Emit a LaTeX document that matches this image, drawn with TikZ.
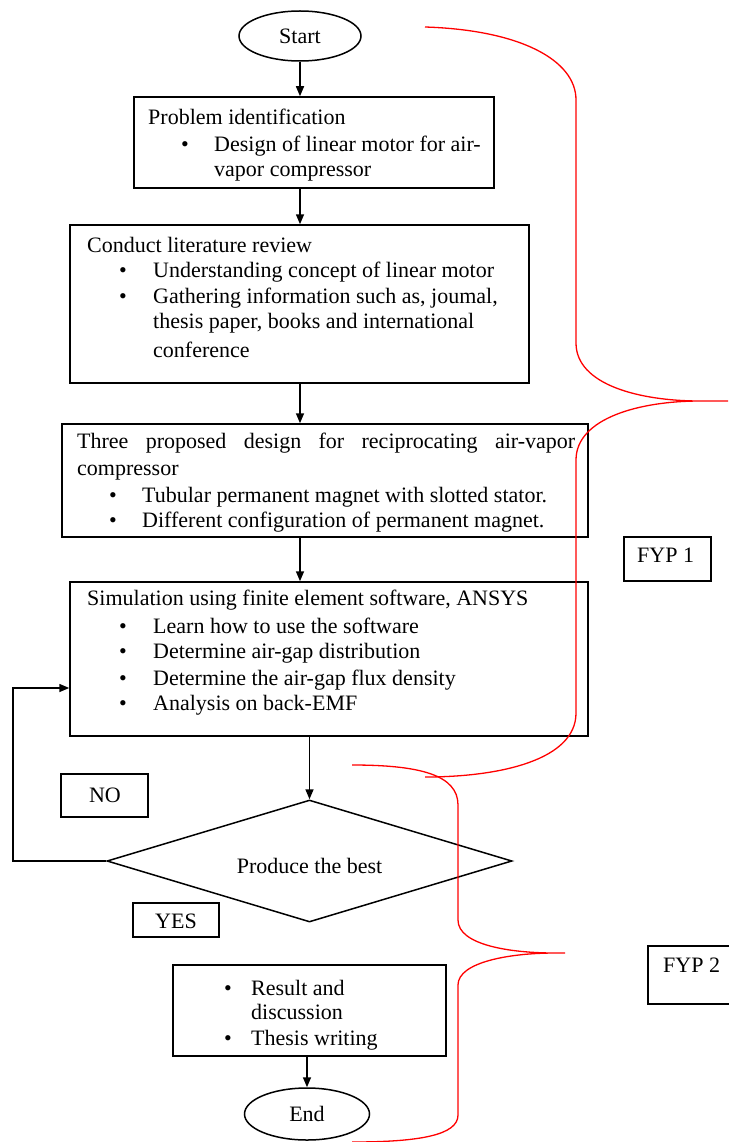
\documentclass[tikz,border=0pt]{standalone}
\usepackage{fontspec}
\setmainfont{Liberation Serif}
\usetikzlibrary{shapes.geometric,arrows.meta}
\begin{document}
\begin{tikzpicture}[x=1pt,y=-1pt,
  box/.style={draw, line width=1.5pt, inner sep=0pt},
  txt/.style={anchor=base west, inner sep=0pt, font=\fontsize{22}{26}\selectfont},
  lbl/.style={anchor=base, inner sep=0pt, font=\fontsize{22}{26}\selectfont},
  term/.style={ellipse, draw, line width=1.5pt, inner sep=0pt, font=\fontsize{22}{26}\selectfont},
  arr/.style={line width=1.5pt, -{Triangle[length=10pt,width=8pt]}},
  brace/.style={draw=red, line width=1.3pt}]
\useasboundingbox (0,0) rectangle (728,1142);

% terminals
\node[term, minimum width=122pt, minimum height=50pt] (start) at (300,36) {Start};
\node[term, minimum width=125pt, minimum height=52pt] (end) at (307,1114) {End};

% boxes
\node[box, minimum width=360pt, minimum height=91pt] (b1) at (314,142.5) {};
\node[box, minimum width=459pt, minimum height=158pt] (b2) at (299.5,304) {};
\node[box, minimum width=526pt, minimum height=113pt] (b3) at (325,480.5) {};
\node[box, minimum width=518pt, minimum height=154pt] (b4) at (329,659) {};
\node[box, minimum width=273pt, minimum height=91pt] (b5) at (309.5,1010.5) {};
\node[diamond, draw, line width=1.5pt, minimum width=405pt, minimum height=122pt, inner sep=0pt, aspect=3.3] (dia) at (309.5,861) {};
\node[lbl] (tdia) at (309.5,873) {Produce the best};

% small label boxes
\node[box, minimum width=87pt, minimum height=43pt] (no) at (104.5,795.5) {};
\node[box, minimum width=86pt, minimum height=34pt] (yes) at (176,920) {};
\node[box, minimum width=87pt, minimum height=44pt] (fyp1) at (667.5,559) {};
\node[box, minimum width=92pt, minimum height=58pt] (fyp2) at (694,975) {};
\node[lbl] (tno) at (105,802) {NO};
\node[lbl] (tyes) at (176,928) {YES};
\node[txt] (tfyp1) at (637,562) {FYP 1};
\node[txt] (tfyp2) at (663,972) {FYP 2};

% box 1 text
\node[txt] (t11) at (148,125) {Problem identification};
\node[txt] (u11) at (181,152) {•};
\node[txt] (t12) at (214,152) {Design of linear motor for air-};
\node[txt] (t13) at (214,176) {vapor compressor};

% box 2 text
\node[txt] (t21) at (87,252) {Conduct literature review};
\node[txt] (u21) at (119,277) {•};
\node[txt] (t22) at (153,277) {Understanding concept of linear motor};
\node[txt] (u22) at (119,303) {•};
\node[txt] (t23) at (153,303) {Gathering information such as, joumal,};
\node[txt] (t24) at (153,328) {thesis paper, books and international};
\node[txt] (t25) at (153,357) {conference};

% box 3 text
\node[txt] (t31) at (77,448) {\makebox[498pt][s]{Three proposed design for reciprocating air-vapor}};
\node[txt] (t32) at (77,475) {compressor};
\node[txt] (u31) at (109,502) {•};
\node[txt] (t33) at (142,502) {Tubular permanent magnet with slotted stator.};
\node[txt] (u32) at (109,527) {•};
\node[txt] (t34) at (142,527) {Different configuration of permanent magnet.};

% box 4 text
\node[txt] (t41) at (87,605) {Simulation using finite element software, ANSYS};
\node[txt] (u41) at (119,633) {•};
\node[txt] (t42) at (153,633) {Learn how to use the software};
\node[txt] (u42) at (119,658) {•};
\node[txt] (t43) at (153,658) {Determine air-gap distribution};
\node[txt] (u43) at (119,685) {•};
\node[txt] (t44) at (153,685) {Determine the air-gap flux density};
\node[txt] (u44) at (119,710) {•};
\node[txt] (t45) at (153,710) {Analysis on back-EMF};

% box 5 text
\node[txt] (u51) at (224,995) {•};
\node[txt] (t51) at (251,995) {Result and};
\node[txt] (t52) at (251,1019) {discussion};
\node[txt] (u52) at (224,1045) {•};
\node[txt] (t53) at (251,1045) {Thesis writing};

% connectors
\draw[arr] (start.south) -- (start.south |- b1.north);
\draw[arr] (b1.south -| start.south) -- (b2.north -| start.south);
\draw[arr] (b2.south -| start.south) -- (b3.north -| start.south);
\draw[arr] (b3.south -| start.south) -- (b4.north -| start.south);
\draw[arr] (b4.south -| dia.north) -- (dia.north);
\draw[arr] (b5.south -| end.north) -- (end.north);
\coordinate (lp) at (13,688);
\draw[arr] (dia.west) -| (lp) -- (lp -| b4.west);

% red braces
\draw[brace] (425,27) .. controls (520,30) and (576,60) .. (576,100) -- (576,343)
  .. controls (576,385) and (640,401) .. (700,401) -- (728,401) -- (700,401)
  .. controls (640,401) and (576,418) .. (576,460) -- (576,713)
  .. controls (576,760) and (500,777) .. (425,777);
\draw[brace] (352,765) .. controls (420,765) and (458,775) .. (458,805) -- (458,920)
  .. controls (458,945) and (510,953) .. (555,953) -- (565,953) -- (555,953)
  .. controls (510,953) and (458,962) .. (458,985) -- (458,1115)
  .. controls (458,1135) and (420,1142) .. (352,1142);
\end{tikzpicture}
\end{document}
